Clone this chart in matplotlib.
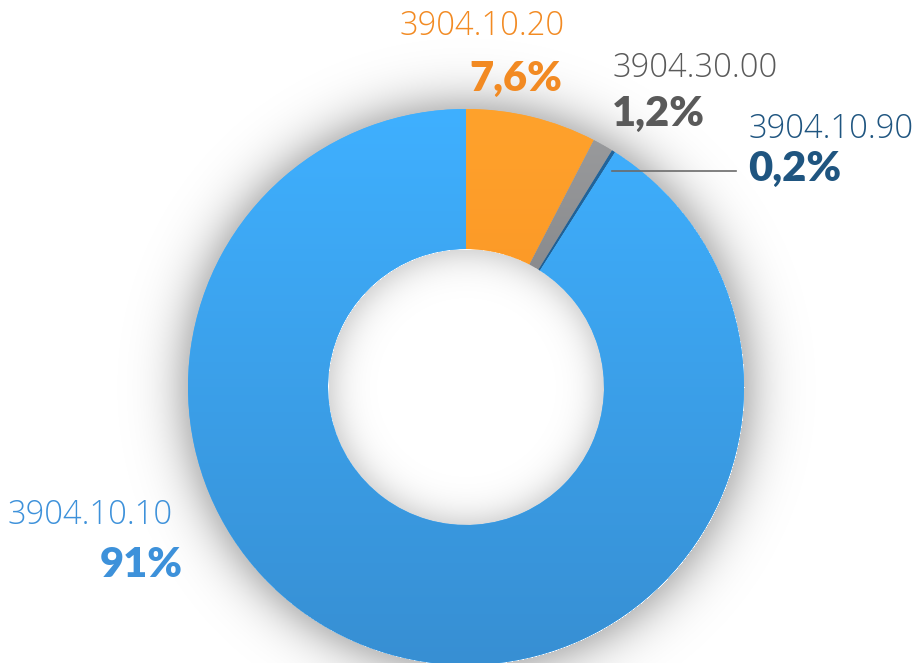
import numpy as np
import matplotlib
matplotlib.use("Agg")
import matplotlib.pyplot as plt
from matplotlib.colors import to_rgb

# ---- data ----
categories = ["3904.10.20", "3904.30.00", "3904.10.90", "3904.10.10"]
values = [7.6, 1.2, 0.2, 91.0]
value_labels = ["7,6%", "1,2%", "0,2%", "91%"]
top_colors = ["#ffa22c", "#9c9d9f", "#23679e", "#3fb0ff"]
bottom_colors = ["#f6861c", "#5d5f63", "#1b4d78", "#378fd3"]
text_colors = ["#f28a22", "#5a5a5a", "#1f5580", "#3d91da"]

W, H = 923, 663
cx, cy, R, width = 466, 387, 278, 140

plt.rcParams['font.family'] = ['Lato', 'DejaVu Sans']
fig = plt.figure(figsize=(W / 100, H / 100), dpi=100)
ax = fig.add_axes([0, 0, 1, 1])
ax.set_xlim(0, W)
ax.set_ylim(H, 0)
ax.set_aspect('equal')
ax.axis('off')

# ---- soft shadow ----
yy, xx = np.mgrid[0:H, 0:W]
r = np.hypot(xx - cx, yy - cy)
alpha = np.zeros_like(r)
outer = r > R
alpha[outer] = 0.24 * np.exp(-((r[outer] - R) / 24.0) ** 1.3)
rin = R - width
inner = r < rin
alpha[inner] = 0.15 * np.exp(-((rin - r[inner]) / 18.0) ** 1.3)
shadow = np.zeros((H, W, 4))
shadow[..., 3] = alpha
ax.imshow(shadow, extent=(0, W, H, 0), zorder=0, interpolation='bilinear')

# ---- donut ----
wedges, _ = ax.pie(values, center=(cx, cy), radius=R, startangle=-90,
                   counterclock=True,
                   wedgeprops=dict(width=width, linewidth=0),
                   colors=top_colors, frame=True)
ax.set_xlim(0, W)
ax.set_ylim(H, 0)
ax.axis('off')

ytop, ybot = cy - R, cy + R
for w, c1, c2 in zip(wedges, top_colors, bottom_colors):
    a = np.array(to_rgb(c1)); b = np.array(to_rgb(c2))
    t = np.linspace(0, 1, 256)[:, None]
    grad = (a * (1 - t) + b * t)[:, None, :]
    im = ax.imshow(grad, extent=(cx - R, cx + R, ybot, ytop), aspect='auto',
                   zorder=2, interpolation='bilinear')
    im.set_clip_path(w)
ax.set_xlim(0, W)
ax.set_ylim(H, 0)

# ---- leader line for small slice ----
ax.plot([612, 736], [171, 171], color="#6b6b6b", lw=1.2, zorder=3)

# ---- labels ----
name_fs = 23.5
val_fs = 30
lab = [
    (565, 26, 562, 79, 'right'),
    (612, 68, 612, 114, 'left'),
    (749, 129, 748, 169, 'left'),
    (173, 515, 183, 565, 'right'),
]
for (nx, ny, vx, vy, ha), name, vl, col in zip(lab, categories, value_labels, text_colors):
    ax.text(nx, ny, name, ha=ha, va='center', fontsize=name_fs,
            family=['Open Sans', 'DejaVu Sans'], fontweight='light', color=col)
    ax.text(vx, vy, vl, ha=ha, va='center', fontsize=val_fs,
            fontweight='heavy', color=col)

fig.savefig("out.png", dpi=100)
